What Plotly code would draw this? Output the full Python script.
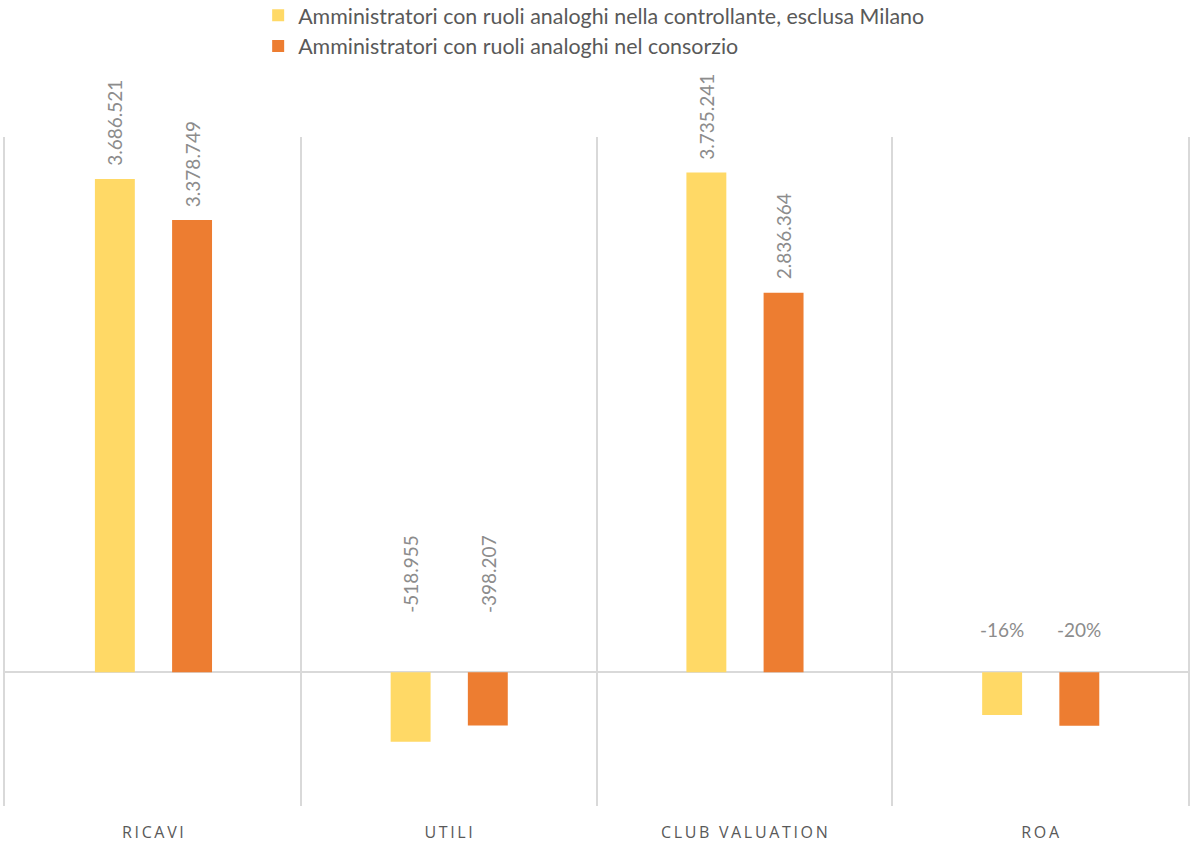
import plotly.graph_objects as go

# Indicatori per categoria (valori in euro; ROA in frazione)
categories = ["RICAVI", "UTILI", "CLUB VALUATION", "ROA"]
series_names = [
    "Amministratori con ruoli analoghi nella controllante, esclusa Milano",
    "Amministratori con ruoli analoghi nel consorzio",
]
controllante = [3686521, -518955, 3735241]
consorzio = [3378749, -398207, 2836364]
roa_controllante = -0.16
roa_consorzio = -0.20

YELLOW = "#FFD966"
ORANGE = "#ED7D31"
GRID = "#D9D9D9"
LABEL_GRAY = "#8C8C8C"
TEXT_GRAY = "#595959"

BAR_W = 0.135
OFFSETS = [-0.196, 0.065]


def it_number(v):
    return f"{v:,}".replace(",", ".")


def spaced(s):
    return "\u2009".join(s)


fig = go.Figure()

money_series = [controllante, consorzio]
roa_series = [roa_controllante, roa_consorzio]
colors = [YELLOW, ORANGE]

for k in range(2):
    fig.add_trace(go.Bar(
        x=categories[:3], y=money_series[k], name=series_names[k],
        marker=dict(color=colors[k], line=dict(width=0)),
        width=BAR_W, offset=OFFSETS[k],
        legendgroup=f"g{k}", yaxis="y",
    ))
    fig.add_trace(go.Bar(
        x=[categories[3]], y=[roa_series[k]], name=series_names[k],
        marker=dict(color=colors[k], line=dict(width=0)),
        width=BAR_W, offset=OFFSETS[k],
        legendgroup=f"g{k}", showlegend=False, yaxis="y2",
    ))

annotations = []
label_font = dict(family="Lato", size=19, color=LABEL_GRAY)
for k in range(2):
    for i, v in enumerate(money_series[k]):
        xc = i + OFFSETS[k] + BAR_W / 2
        if v >= 0:
            annotations.append(dict(
                x=xc, y=v, xref="x", yref="y", text=it_number(v),
                textangle=-90, showarrow=False, yanchor="bottom",
                xanchor="center", yshift=11, font=label_font,
            ))
        else:
            annotations.append(dict(
                x=xc, y=0, xref="x", yref="y", text=it_number(v),
                textangle=-90, showarrow=False, yanchor="bottom",
                xanchor="center", yshift=57, font=label_font,
            ))
    xc = 3 + OFFSETS[k] + BAR_W / 2
    annotations.append(dict(
        x=xc, y=0, xref="x", yref="y2", text=f"{roa_series[k]:.0%}",
        showarrow=False, yanchor="bottom", xanchor="center", yshift=29,
        font=label_font,
    ))

fig.update_layout(
    width=1192, height=848,
    margin=dict(l=5, r=4, t=137, b=42, autoexpand=False),
    paper_bgcolor="white", plot_bgcolor="white",
    barmode="overlay",
    showlegend=True,
    legend=dict(
        orientation="v", x=0.214, xanchor="left", y=1.2125, yanchor="top",
        font=dict(family="Lato", size=21.4, color=TEXT_GRAY),
        traceorder="grouped", tracegroupgap=0,
        bgcolor="rgba(0,0,0,0)",
    ),
    xaxis=dict(
        type="category", categoryorder="array", categoryarray=categories,
        tickvals=categories, ticktext=[spaced(c) for c in categories],
        range=[-0.5, 3.5], tickson="boundaries", ticks="",
        showgrid=True, gridcolor=GRID, gridwidth=1.5,
        showline=False, zeroline=False,
        tickfont=dict(family="Open Sans", size=16, color=TEXT_GRAY),
        ticklabelstandoff=15,
    ),
    yaxis=dict(
        range=[-1000000, 4000000], showgrid=False, showticklabels=False,
        zeroline=True, zerolinecolor=GRID, zerolinewidth=1.5,
        showline=True, mirror=True, linecolor=GRID, linewidth=1.5, ticks="",
    ),
    yaxis2=dict(
        range=[-0.5, 2.0], overlaying="y", side="right", visible=False,
        showgrid=False, zeroline=False,
    ),
    annotations=annotations,
)

fig.write_html("out.html")
